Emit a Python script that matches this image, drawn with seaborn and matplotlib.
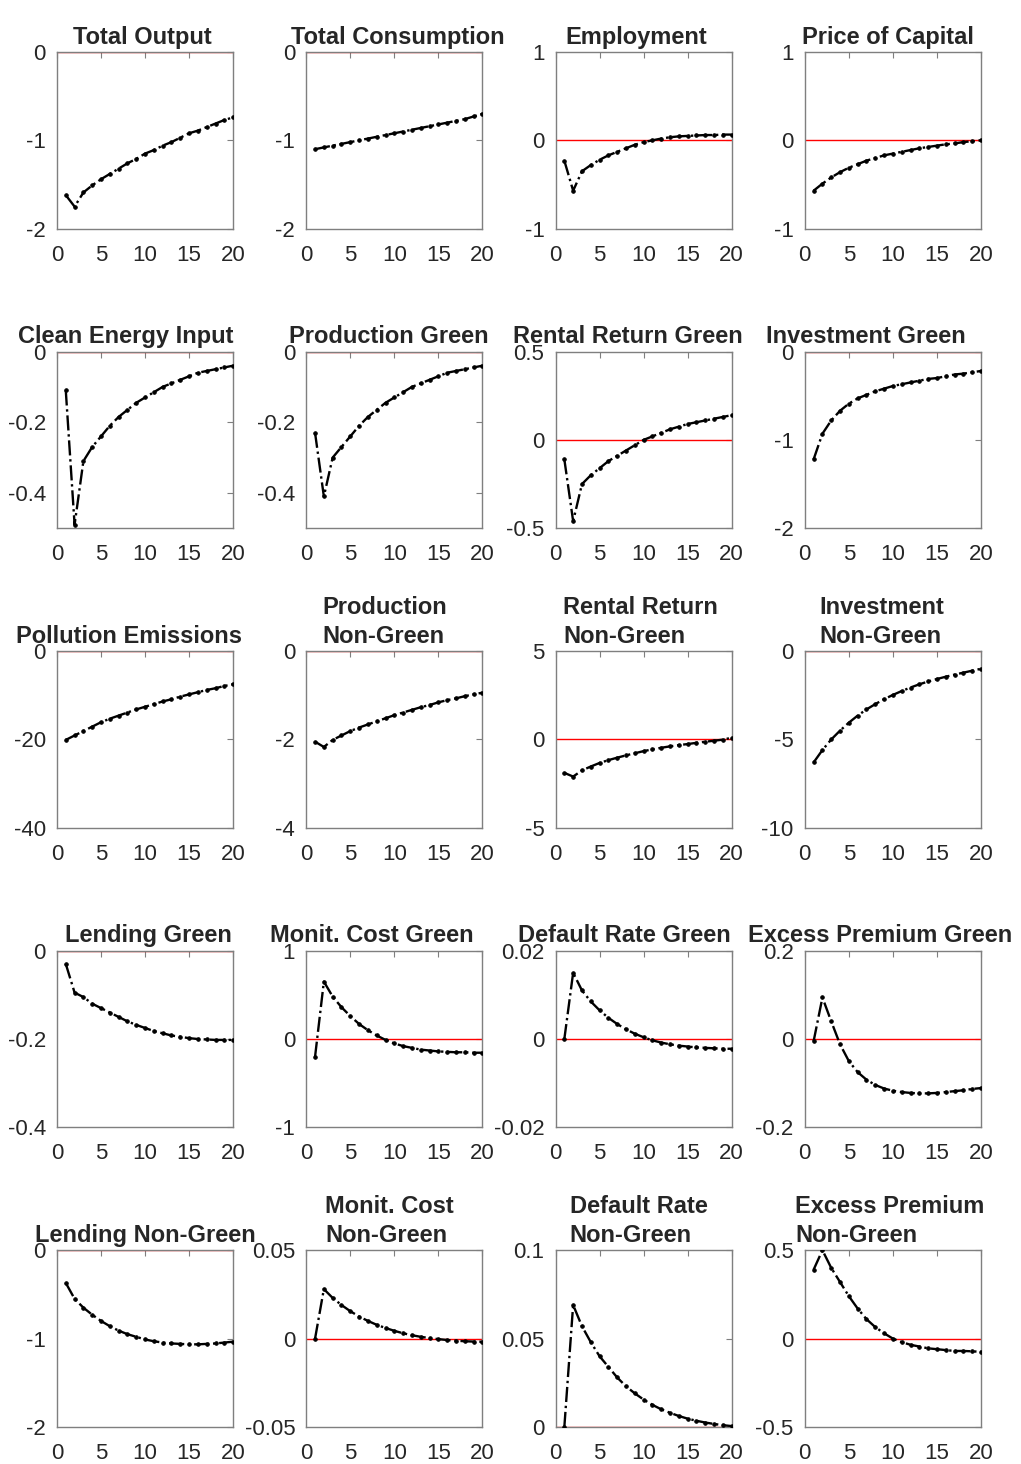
import matplotlib
matplotlib.use("Agg")
import matplotlib.pyplot as plt
import seaborn as sns

# ---- data: impulse responses, periods 1..20 ----
periods = list(range(1, 21))

total_output = [-1.62, -1.75, -1.59, -1.51, -1.44, -1.38, -1.32, -1.26, -1.21, -1.15,
                -1.11, -1.06, -1.02, -0.97, -0.92, -0.89, -0.85, -0.81, -0.77, -0.74]
total_consumption = [-1.10, -1.08, -1.06, -1.04, -1.02, -1.00, -0.98, -0.96, -0.94, -0.92,
                     -0.90, -0.88, -0.86, -0.84, -0.82, -0.80, -0.78, -0.76, -0.73, -0.70]
employment = [-0.23, -0.57, -0.35, -0.28, -0.22, -0.17, -0.13, -0.09, -0.05, -0.02,
              0.0, 0.02, 0.035, 0.045, 0.05, 0.055, 0.06, 0.06, 0.065, 0.065]
price_capital = [-0.57, -0.49, -0.42, -0.36, -0.31, -0.27, -0.23, -0.20, -0.17, -0.15,
                 -0.13, -0.11, -0.09, -0.075, -0.06, -0.045, -0.035, -0.02, -0.01, 0.0]
clean_energy = [-0.11, -0.49, -0.31, -0.27, -0.24, -0.21, -0.185, -0.165, -0.145, -0.13,
                -0.115, -0.10, -0.09, -0.08, -0.07, -0.06, -0.055, -0.05, -0.045, -0.04]
production_green = [-0.23, -0.41, -0.30, -0.27, -0.24, -0.21, -0.185, -0.165, -0.145, -0.13,
                    -0.115, -0.10, -0.09, -0.08, -0.07, -0.06, -0.055, -0.05, -0.045, -0.04]
rental_green = [-0.11, -0.46, -0.25, -0.20, -0.16, -0.12, -0.09, -0.06, -0.03, 0.0,
                0.02, 0.04, 0.06, 0.075, 0.09, 0.10, 0.11, 0.12, 0.13, 0.14]
investment_green = [-1.22, -0.93, -0.78, -0.67, -0.59, -0.53, -0.49, -0.45, -0.42, -0.39,
                    -0.37, -0.35, -0.33, -0.31, -0.30, -0.28, -0.26, -0.25, -0.235, -0.22]
pollution = [-20.1, -19.1, -18.1, -17.1, -16.1, -15.3, -14.6, -13.9, -13.2, -12.6,
             -12.0, -11.4, -10.9, -10.3, -9.8, -9.3, -8.8, -8.4, -7.9, -7.5]
production_nongreen = [-2.05, -2.17, -2.01, -1.91, -1.81, -1.73, -1.66, -1.59, -1.52, -1.45,
                       -1.39, -1.33, -1.27, -1.22, -1.16, -1.11, -1.07, -1.02, -0.98, -0.94]
rental_nongreen = [-1.89, -2.10, -1.75, -1.53, -1.33, -1.17, -1.03, -0.90, -0.78, -0.66,
                   -0.56, -0.47, -0.39, -0.32, -0.26, -0.19, -0.13, -0.07, -0.01, 0.1]
investment_nongreen = [-6.3, -5.6, -5.0, -4.5, -4.05, -3.65, -3.3, -3.0, -2.72, -2.48,
                       -2.26, -2.06, -1.88, -1.72, -1.58, -1.45, -1.33, -1.22, -1.11, -1.0]
lending_green = [-0.03, -0.095, -0.105, -0.12, -0.13, -0.14, -0.15, -0.16, -0.168, -0.175,
                 -0.182, -0.187, -0.192, -0.195, -0.198, -0.200, -0.201, -0.202, -0.202, -0.202]
monit_green = [-0.20, 0.65, 0.48, 0.36, 0.26, 0.17, 0.10, 0.04, -0.01, -0.05,
               -0.08, -0.10, -0.12, -0.13, -0.14, -0.145, -0.15, -0.15, -0.155, -0.155]
default_green = [0.0, 0.015, 0.011, 0.0085, 0.0065, 0.0048, 0.0034, 0.0022, 0.0012, 0.0004,
                 -0.0003, -0.0008, -0.0012, -0.0015, -0.0017, -0.0019, -0.0020, -0.0021, -0.0022, -0.0022]
premium_green = [-0.005, 0.094, 0.04, -0.012, -0.05, -0.075, -0.092, -0.104, -0.112, -0.117,
                 -0.120, -0.122, -0.123, -0.123, -0.122, -0.120, -0.118, -0.116, -0.113, -0.111]
lending_nongreen = [-0.37, -0.55, -0.65, -0.73, -0.80, -0.86, -0.91, -0.95, -0.98, -1.01,
                    -1.03, -1.045, -1.055, -1.06, -1.065, -1.065, -1.06, -1.055, -1.045, -1.035]
monit_nongreen = [0.0, 0.028, 0.023, 0.019, 0.0155, 0.0125, 0.010, 0.0078, 0.006, 0.0044,
                  0.003, 0.0019, 0.001, 0.0003, -0.0003, -0.0008, -0.0012, -0.0015, -0.0017, -0.0018]
default_nongreen = [0.0, 0.069, 0.057, 0.048, 0.040, 0.034, 0.028, 0.023, 0.019, 0.0155,
                    0.0125, 0.010, 0.008, 0.0062, 0.0047, 0.0035, 0.0025, 0.0017, 0.001, 0.0005]
premium_nongreen = [0.39, 0.50, 0.40, 0.32, 0.24, 0.17, 0.11, 0.065, 0.03, 0.0,
                    -0.02, -0.035, -0.045, -0.055, -0.06, -0.065, -0.07, -0.07, -0.072, -0.075]

series = [total_output, total_consumption, employment, price_capital,
          clean_energy, production_green, rental_green, investment_green,
          pollution, production_nongreen, rental_nongreen, investment_nongreen,
          lending_green, monit_green, default_green, premium_green,
          lending_nongreen, monit_nongreen, default_nongreen, premium_nongreen]

titles = ["Total Output", "Total Consumption", "Employment", "Price of Capital",
          "Clean Energy Input", "Production Green", "Rental Return Green", "Investment Green",
          "Pollution Emissions", "Production\nNon-Green", "Rental Return\nNon-Green", "Investment\nNon-Green",
          "Lending Green", "Monit. Cost Green", "Default Rate Green", "Excess Premium Green",
          "Lending Non-Green", "Monit. Cost\nNon-Green", "Default Rate\nNon-Green", "Excess Premium\nNon-Green"]

ylims = [(-2, 0), (-2, 0), (-1, 1), (-1, 1),
         (-0.5, 0), (-0.5, 0), (-0.5, 0.5), (-2, 0),
         (-40, 0), (-4, 0), (-5, 5), (-10, 0),
         (-0.4, 0), (-1, 1), (-0.02, 0.02), (-0.2, 0.2),
         (-2, 0), (-0.05, 0.05), (0, 0.1), (-0.5, 0.5)]

yticks = [[-2, -1, 0], [-2, -1, 0], [-1, 0, 1], [-1, 0, 1],
          [-0.4, -0.2, 0], [-0.4, -0.2, 0], [-0.5, 0, 0.5], [-2, -1, 0],
          [-40, -20, 0], [-4, -2, 0], [-5, 0, 5], [-10, -5, 0],
          [-0.4, -0.2, 0], [-1, 0, 1], [-0.02, 0, 0.02], [-0.2, 0, 0.2],
          [-2, -1, 0], [-0.05, 0, 0.05], [0, 0.05, 0.1], [-0.5, 0, 0.5]]

# horizontal nudge of each title (pixels), as placed in the original figure
title_shift = [-3, 3, -7, -5,
               -19, -6, -16, -27,
               -16, -10, -3, -11,
               3, -23, -19, -13,
               0, -5, -5, -3]

sns.set_style("white")
plt.rcParams["font.family"] = ["Liberation Sans", "DejaVu Sans"]
plt.rcParams["axes.unicode_minus"] = False

fig, axes = plt.subplots(5, 4, figsize=(10.21, 14.64), dpi=100)
fig.subplots_adjust(left=0.0558, right=0.9608, top=0.9645, bottom=0.0253,
                    wspace=0.415, hspace=0.695)
ax_w = 176.0

for ax, vals, title, lim, tks, dx in zip(axes.flat, series, titles, ylims, yticks, title_shift):
    ax.axhline(0, color="red", lw=1.0, zorder=1)
    sns.lineplot(x=periods, y=vals, ax=ax, color="black", linestyle="-.",
                 lw=1.7, marker=".", markersize=5, markeredgecolor="black", zorder=3)
    ax.set_xlim(0, 20)
    ax.set_ylim(*lim)
    ax.set_xticks([0, 5, 10, 15, 20])
    ax.set_yticks(tks)
    ax.set_yticklabels(["%g" % t for t in tks])
    ax.tick_params(direction="in", length=4, top=True, right=True,
                   colors="#7f7f7f", labelcolor="#262626", labelsize=16)
    ax.tick_params(axis="x", pad=11.5)
    ax.tick_params(axis="y", pad=8)
    for sp in ax.spines.values():
        sp.set_color("#7f7f7f")
        sp.set_linewidth(1.0)
    t = ax.set_title(title, fontsize=17, fontweight="bold", pad=6, linespacing=1.3)
    t.set_multialignment("left")
    t.set_x(0.5 + dx / ax_w)

plt.savefig("out.png", dpi=100)
plt.close()
